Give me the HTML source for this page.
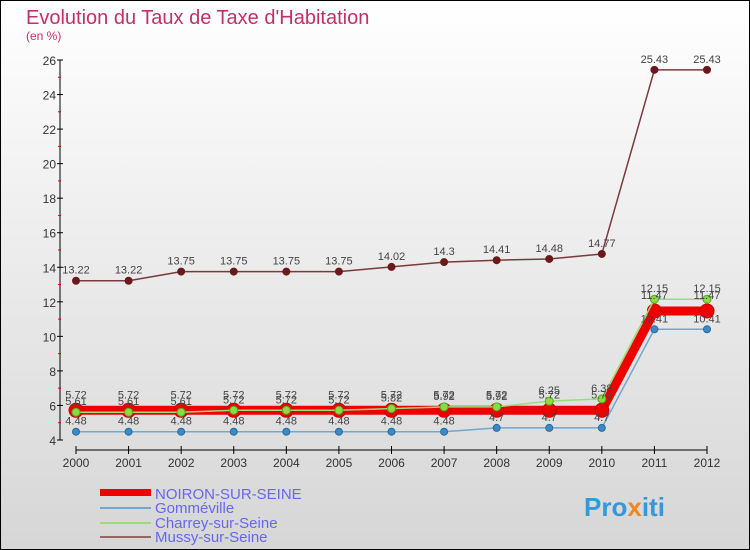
<!DOCTYPE html>
<html><head><meta charset="utf-8"><style>
body{margin:0}
#wrap{width:750px;height:550px;position:relative;box-sizing:border-box;border:1px solid #000;background:linear-gradient(#fff,#d6d6d6);font-family:"Liberation Sans",sans-serif;overflow:hidden}
</style></head><body>
<div id="wrap">
<svg id="chart" width="750" height="550" style="position:absolute;left:-1px;top:-1px">
<text x="26" y="24" font-size="20" fill="#c0306a">Evolution du Taux de Taxe d'Habitation</text>
<text x="26" y="40" font-size="12" fill="#c0306a">(en %)</text>
<line x1="60" y1="60" x2="60" y2="440" stroke="#000"/>
<line x1="76" y1="450" x2="707" y2="450" stroke="#000"/>
<g id="grid"></g><g id="series"></g><g id="labels"></g>
<g>
<rect x="100" y="489" width="51" height="7" fill="#e00"/>
<text x="155" y="499" font-size="15" fill="#6666ee">NOIRON-SUR-SEINE</text>
<line x1="100" y1="508" x2="151" y2="508" stroke="#6fa8d0" stroke-width="2"/>
<text x="155" y="513" font-size="15" fill="#6666ee">Gomméville</text>
<line x1="100" y1="523" x2="151" y2="523" stroke="#99dd77" stroke-width="2"/>
<text x="155" y="528" font-size="15" fill="#6666ee">Charrey-sur-Seine</text>
<line x1="100" y1="537" x2="151" y2="537" stroke="#996666" stroke-width="2"/>
<text x="155" y="542" font-size="15" fill="#6666ee">Mussy-sur-Seine</text>
</g>
<text x="584" y="516" font-size="26" font-weight="bold" fill="#3399dd">Pro<tspan fill="#ee8822">x</tspan>iti</text>
</svg>
</div>
<script>
const years=[2000,2001,2002,2003,2004,2005,2006,2007,2008,2009,2010,2011,2012];
const yTicks=[4,6,8,10,12,14,16,18,20,22,24,26];
const noiron=[5.72,5.72,5.72,5.72,5.72,5.72,5.72,5.72,5.72,5.72,5.72,11.47,11.47];
const gommeville=[4.48,4.48,4.48,4.48,4.48,4.48,4.48,4.48,4.7,4.7,4.7,10.41,10.41];
const charrey=[5.61,5.61,5.61,5.72,5.72,5.72,5.82,5.92,5.92,6.25,6.38,12.15,12.15];
const mussy=[13.22,13.22,13.75,13.75,13.75,13.75,14.02,14.3,14.41,14.48,14.77,25.43,25.43];
const NS="http://www.w3.org/2000/svg";
const xs=i=>76+i*(707-76)/(years.length-1);
const ys=v=>440-(v-4)*(380/22);
function mk(t,a,p){const e=document.createElementNS(NS,t);for(const k in a)e.setAttribute(k,a[k]);p.appendChild(e);return e;}
const grid=document.getElementById('grid'),ser=document.getElementById('series'),lab=document.getElementById('labels');
yTicks.forEach(v=>{
 const l=mk('line',{x1:57,x2:63,y1:ys(v),y2:ys(v),stroke:'#000'},grid);
 
 
 const t=mk('text',{x:56,y:ys(v)+5,'font-size':12,fill:'#333','text-anchor':'end'},grid);t.textContent=v;
 
 
 if(v<26){const m=mk('line',{x1:58,x2:61,y1:ys(v+1),y2:ys(v+1),stroke:'#e00'},grid);
 
 }
});
years.forEach((y,i)=>{
 const l=mk('line',{x1:xs(i),x2:xs(i),y1:446,y2:454,stroke:'#000'},grid);
 
 
 const t=mk('text',{x:xs(i),y:467,'font-size':12,fill:'#333','text-anchor':'middle'},grid);t.textContent=y;
 
 
});
function series(vals,color,w,r,name,dotFill,dotStroke,labOff){
 const pts=vals.map((v,i)=>xs(i)+','+ys(v)).join(' ');
 const pl=mk('polyline',{points:pts,fill:'none',stroke:color,'stroke-width':w,'stroke-linejoin':'round'},ser);
 
 
 vals.forEach((v,i)=>{
  const c=mk('circle',{cx:xs(i),cy:ys(v),r:r,fill:dotFill,stroke:dotStroke,'stroke-width':1},ser);
  
  
  const t=mk('text',{x:xs(i),y:ys(v)+labOff,'font-size':11,fill:'#444','text-anchor':'middle'},lab);t.textContent=v;
  
  
 });
}
series(mussy,'#7a3a3a',1.5,3.5,'mussy','#6a1a1a','#6a1a1a',-7);
series(gommeville,'#6fa8d0',1.5,3.5,'gommeville','#3a8ac8','#2a6a9a',-7);
series(noiron,'#ee0000',9,7,'noiron','#ee0000','#cc0000',-12);
series(charrey,'#99dd77',1.5,4,'charrey','#88dd44','#55aa22',-7);
</script>
</body></html>
